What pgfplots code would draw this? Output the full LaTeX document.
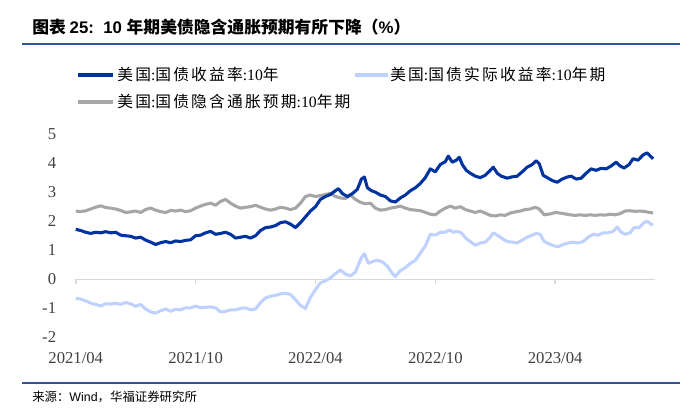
\documentclass[border=0pt]{standalone}
\usepackage{pgfplots}
\pgfplotsset{compat=1.18}
\usepackage{fontspec}
\setmainfont{Liberation Serif}
\newfontfamily\cjk{Noto Sans CJK SC}
\newfontfamily\cjkl[LetterSpace=14]{Noto Sans CJK SC}
\newfontfamily\arial{Liberation Sans}
\definecolor{c1}{RGB}{0,51,160}
\definecolor{c2}{RGB}{191,210,255}
\definecolor{c3}{RGB}{166,166,166}
\definecolor{rulec}{RGB}{47,85,151}
\definecolor{tickc}{RGB}{64,64,64}
\definecolor{zl}{RGB}{217,217,217}
\begin{document}
\begin{tikzpicture}
\useasboundingbox (-56.8pt,-60.4pt) rectangle (468.2pt,253.1pt);
% title
\node[anchor=west, inner sep=0pt] at (-32.8pt,232.5pt) {\fontsize{12.6}{14}\selectfont{\cjk\bfseries 图表 }{\arial\bfseries 25:\ \ 10 }{\cjk\bfseries 年期美债隐含通胀预期有所下降（}{\arial\bfseries\%}{\cjk\bfseries ）}};
\draw[rulec, line width=1.3pt] (-40.3pt,220.1pt) -- (453.2pt,220.1pt);
% legend
\draw[c1, line width=3pt] (1.7pt,196.9pt) -- (28.0pt,196.9pt);
\node[anchor=west, inner sep=0pt] at (31.0pt,196.9pt) {\fontsize{11.8}{13}\selectfont{\cjkl 美国}:{\cjkl 国债收益率}:10{\cjkl 年}};
\draw[c2, line width=3pt] (209.5pt,196.9pt) -- (234.2pt,196.9pt);
\node[anchor=west, inner sep=0pt] at (235.7pt,196.9pt) {\fontsize{11.8}{13}\selectfont{\cjkl 美国}:{\cjkl 国债实际收益率}:10{\cjkl 年期}};
\draw[c3, line width=3pt] (1.7pt,176.6pt) -- (28.0pt,176.6pt);
\node[anchor=west, inner sep=0pt] at (31.0pt,176.6pt) {\fontsize{11.8}{13}\selectfont{\cjkl 美国}:{\cjkl 国债隐含通胀预期}:10{\cjkl 年期}};
% footer
\draw[rulec, line width=1.3pt] (-40.3pt,-34.4pt) -- (453.2pt,-34.4pt);
\node[anchor=west, inner sep=0pt] at (-32.8pt,-44.4pt) {\fontsize{9.3}{11}\selectfont{\cjk 来源：}{\arial Wind}{\cjk ，华福证券研究所}};
\begin{axis}[at={(0,0)}, anchor=south west, scale only axis,
  width=434.5pt, height=152.6pt,
  xmin=0, xmax=29, ymin=-2, ymax=5,
  axis x line*=bottom, axis y line*=left,
  axis line style={draw=none}, tick style={draw=none},
  major tick length=0pt,
  xtick={0,6,12,18,24},
  xticklabels={2021/04,2021/10,2022/04,2022/10,2023/04},
  ytick={-2,-1,0,1,2,3,4,5},
  tick label style={font=\fontsize{12.5}{14}\selectfont, text=tickc},
  /pgf/number format/assume math mode=true,
  xticklabel style={anchor=center, inner sep=0pt, yshift=-15.4pt},
  yticklabel style={anchor=east, inner sep=0pt, xshift=-14.5pt},
  clip=false]
\draw[zl, line width=1.2pt] (axis cs:0,0) -- (axis cs:29,0);
\pgfplotsinvokeforeach{0,6,12,18,24}{\draw[zl, line width=1.2pt] (axis cs:#1,0) -- ([yshift=-3.75pt]axis cs:#1,0);}
\addplot[c3, line width=2.3pt, line join=round] coordinates {
(0.0,2.35)(0.25,2.33)(0.5,2.36)(0.75,2.42)(1.0,2.48)(1.25,2.53)(1.5,2.47)(1.75,2.45)
(2.0,2.42)(2.25,2.37)(2.5,2.30)(2.75,2.32)(3.0,2.35)(3.25,2.30)(3.5,2.40)(3.75,2.45)
(4.0,2.38)(4.25,2.33)(4.5,2.30)(4.75,2.37)(5.0,2.35)(5.25,2.38)(5.5,2.33)(5.75,2.36)
(6.0,2.45)(6.25,2.52)(6.5,2.58)(6.75,2.62)(7.0,2.55)(7.25,2.68)(7.5,2.75)(7.75,2.62)
(8.0,2.52)(8.25,2.45)(8.5,2.48)(8.75,2.50)(9.0,2.55)(9.25,2.48)(9.5,2.42)(9.75,2.38)
(10.0,2.42)(10.25,2.48)(10.5,2.45)(10.75,2.40)(11.0,2.45)(11.25,2.62)(11.5,2.85)(11.75,2.90)
(12.0,2.85)(12.25,2.88)(12.5,2.92)(12.75,2.96)(13.0,2.85)(13.25,2.80)(13.5,2.78)(13.75,2.90)
(14.0,2.75)(14.25,2.65)(14.5,2.60)(14.75,2.62)(15.0,2.45)(15.25,2.38)(15.5,2.40)(15.75,2.45)
(16.0,2.48)(16.25,2.52)(16.5,2.45)(16.75,2.40)(17.0,2.38)(17.25,2.36)(17.5,2.30)(17.75,2.24)
(18.0,2.22)(18.25,2.35)(18.5,2.45)(18.75,2.52)(19.0,2.45)(19.25,2.50)(19.5,2.40)(19.75,2.35)
(20.0,2.30)(20.25,2.35)(20.5,2.28)(20.75,2.20)(21.0,2.18)(21.25,2.22)(21.5,2.20)(21.75,2.28)
(22.0,2.32)(22.25,2.35)(22.5,2.40)(22.75,2.42)(23.0,2.48)(23.2,2.42)(23.45,2.22)(23.75,2.25)
(24.0,2.30)(24.25,2.28)(24.5,2.25)(24.75,2.22)(25.0,2.20)(25.25,2.22)(25.5,2.20)(25.75,2.22)
(26.0,2.20)(26.25,2.22)(26.5,2.21)(26.75,2.24)(27.0,2.22)(27.25,2.26)(27.5,2.35)(27.75,2.36)
(28.0,2.34)(28.25,2.35)(28.5,2.33)(28.75,2.30)(28.9,2.28)
};
\addplot[c2, line width=2.3pt, line join=round] coordinates {
(0.0,-0.65)(0.25,-0.68)(0.5,-0.74)(0.75,-0.82)(1.0,-0.86)(1.25,-0.92)(1.5,-0.84)(1.75,-0.85)
(2.0,-0.82)(2.25,-0.86)(2.5,-0.80)(2.75,-0.84)(3.0,-0.93)(3.25,-0.86)(3.5,-1.02)(3.75,-1.12)
(4.0,-1.16)(4.25,-1.08)(4.5,-1.02)(4.75,-1.10)(5.0,-1.03)(5.25,-1.05)(5.5,-0.98)(5.75,-0.98)
(6.0,-0.92)(6.25,-0.98)(6.5,-0.96)(6.75,-0.95)(7.0,-0.98)(7.25,-1.12)(7.5,-1.10)(7.75,-1.05)
(8.0,-1.05)(8.25,-1.00)(8.5,-0.98)(8.75,-1.05)(9.0,-1.02)(9.25,-0.80)(9.5,-0.64)(9.75,-0.58)
(10.0,-0.55)(10.25,-0.50)(10.5,-0.48)(10.75,-0.52)(11.0,-0.70)(11.25,-0.90)(11.5,-1.00)(11.75,-0.62)
(12.0,-0.35)(12.25,-0.12)(12.5,-0.05)(12.75,0.05)(13.0,0.20)(13.25,0.32)(13.5,0.18)(13.75,0.12)
(14.0,0.25)(14.3,0.75)(14.45,0.88)(14.65,0.55)(14.9,0.62)(15.1,0.66)(15.35,0.60)(15.6,0.45)
(15.85,0.20)(16.0,0.10)(16.25,0.30)(16.5,0.40)(16.75,0.55)(17.0,0.65)(17.25,0.90)(17.5,1.15)
(17.75,1.55)(18.0,1.52)(18.25,1.62)(18.5,1.62)(18.7,1.70)(18.9,1.62)(19.1,1.65)(19.3,1.60)
(19.55,1.40)(19.75,1.30)(20.0,1.17)(20.25,1.25)(20.5,1.28)(20.75,1.45)(20.9,1.60)(21.15,1.50)
(21.4,1.38)(21.6,1.30)(21.85,1.28)(22.1,1.25)(22.35,1.35)(22.6,1.45)(22.85,1.52)(23.05,1.58)
(23.25,1.55)(23.45,1.30)(23.7,1.22)(23.95,1.15)(24.15,1.12)(24.4,1.20)(24.65,1.25)(24.9,1.28)
(25.15,1.25)(25.4,1.30)(25.65,1.45)(25.9,1.55)(26.15,1.52)(26.4,1.60)(26.65,1.60)(26.9,1.65)
(27.1,1.80)(27.3,1.62)(27.5,1.55)(27.75,1.60)(27.95,1.78)(28.2,1.78)(28.45,1.95)(28.6,2.00)
(28.75,1.92)(28.9,1.86)
};
\addplot[c1, line width=2.3pt, line join=round] coordinates {
(0.0,1.72)(0.25,1.68)(0.5,1.62)(0.75,1.58)(1.0,1.62)(1.25,1.60)(1.5,1.64)(1.75,1.60)
(2.0,1.62)(2.25,1.52)(2.5,1.50)(2.75,1.48)(3.0,1.42)(3.25,1.45)(3.5,1.35)(3.75,1.28)
(4.0,1.20)(4.25,1.26)(4.5,1.30)(4.75,1.26)(5.0,1.32)(5.25,1.30)(5.5,1.34)(5.75,1.36)
(6.0,1.50)(6.25,1.52)(6.5,1.60)(6.75,1.65)(7.0,1.55)(7.25,1.58)(7.5,1.62)(7.75,1.55)
(8.0,1.42)(8.25,1.45)(8.5,1.48)(8.75,1.42)(9.0,1.50)(9.25,1.68)(9.5,1.78)(9.75,1.80)
(10.0,1.85)(10.25,1.95)(10.5,1.98)(10.75,1.90)(11.0,1.78)(11.25,1.95)(11.5,2.15)(11.75,2.35)
(12.0,2.50)(12.25,2.75)(12.5,2.85)(12.75,2.92)(13.0,3.05)(13.15,3.12)(13.35,2.95)(13.6,2.85)
(13.85,2.95)(14.1,3.10)(14.3,3.45)(14.45,3.52)(14.6,3.15)(14.8,3.05)(15.0,3.00)(15.25,2.90)
(15.5,2.85)(15.75,2.70)(16.0,2.66)(16.25,2.80)(16.5,2.90)(16.75,3.05)(17.0,3.15)(17.25,3.30)
(17.5,3.50)(17.75,3.80)(18.0,3.70)(18.25,3.95)(18.5,4.05)(18.65,4.24)(18.85,4.03)(19.05,4.10)
(19.2,4.20)(19.35,3.95)(19.55,3.75)(19.75,3.65)(20.0,3.55)(20.25,3.50)(20.5,3.58)(20.75,3.75)
(20.9,3.86)(21.1,3.65)(21.3,3.55)(21.6,3.48)(21.8,3.52)(22.1,3.55)(22.35,3.70)(22.6,3.86)
(22.85,3.95)(23.05,4.08)(23.2,3.98)(23.4,3.58)(23.6,3.50)(23.85,3.40)(24.1,3.34)(24.35,3.45)
(24.6,3.52)(24.8,3.55)(25.05,3.45)(25.3,3.48)(25.55,3.65)(25.8,3.80)(26.05,3.75)(26.3,3.82)
(26.55,3.80)(26.8,3.90)(27.05,4.03)(27.25,3.90)(27.45,3.83)(27.7,3.95)(27.9,4.15)(28.15,4.10)
(28.4,4.28)(28.6,4.35)(28.75,4.25)(28.9,4.15)
};
\end{axis}
\end{tikzpicture}
\end{document}
